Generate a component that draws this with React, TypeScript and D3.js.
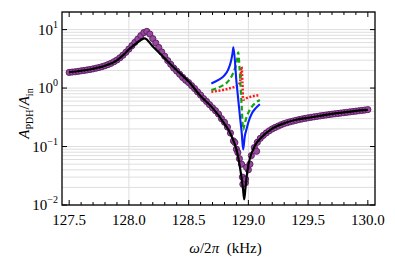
import React from 'react';
import * as d3 from 'd3';

// measured sweep (purple circles), uniform frequency step
const sweepStart = 127.5;
const sweepStep = 0.025;
const sweepAmp = [
  1.85, 1.88, 1.9, 1.93, 1.97, 2.0, 2.04, 2.08, 2.13, 2.19,
  2.25, 2.32, 2.41, 2.52, 2.65, 2.82, 3.02, 3.3, 3.65, 4.1,
  4.65, 5.3, 6.05, 6.9, 7.9, 8.9, 9.3, 8.4, 7.0, 5.9,
  4.95, 4.15, 3.5, 2.95, 2.55, 2.2, 1.95, 1.72, 1.52, 1.36,
  1.24, 1.1, 0.98, 0.86, 0.76, 0.66, 0.59, 0.52, 0.46, 0.41,
  0.36, 0.3, 0.26, 0.215, 0.17, 0.125, 0.09, 0.062, 0.03, 0.024,
  0.04, 0.07, 0.096, 0.118, 0.138, 0.155, 0.171, 0.186, 0.2, 0.212,
  0.224, 0.236, 0.247, 0.256, 0.265, 0.273, 0.281, 0.289, 0.296, 0.303,
  0.31, 0.316, 0.322, 0.328, 0.334, 0.34, 0.346, 0.352, 0.358, 0.363,
  0.368, 0.374, 0.379, 0.385, 0.391, 0.397, 0.403, 0.409, 0.415, 0.421,
  0.428
];
// extra measured points around the dip
const dipFreq = [128.887, 128.912, 128.943, 128.954, 128.977, 128.985, 129.013, 129.069];
const dipAmp = [0.117, 0.079, 0.05, 0.0227, 0.0276, 0.044, 0.05, 0.083];

// fit (black line)
const fitFreq = [127.5, 127.6, 127.7, 127.8, 127.9, 127.95, 128.0, 128.05, 128.1, 128.13, 128.2, 128.3, 128.4, 128.5, 128.6, 128.7, 128.8, 128.85, 128.9, 128.92, 128.94, 128.955, 128.965, 128.975, 128.985, 129.0, 129.02, 129.04, 129.06, 129.1, 129.2, 129.3, 129.4, 129.5, 129.6, 129.7, 129.8, 129.9, 130.0];
const fitAmp = [1.87, 1.98, 2.14, 2.41, 2.98, 3.62, 4.58, 5.57, 6.64, 7.1, 5.15, 3.22, 2.02, 1.29, 0.73, 0.458, 0.245, 0.166, 0.089, 0.058, 0.032, 0.019, 0.0125, 0.019, 0.03, 0.048, 0.07, 0.089, 0.108, 0.137, 0.202, 0.25, 0.287, 0.31, 0.335, 0.362, 0.384, 0.408, 0.424];

// model curves near the dip
const blueFreq = [128.69, 128.75, 128.8, 128.83, 128.855, 128.868, 128.875, 128.9, 128.93, 128.945, 128.956, 128.97, 128.985, 129.0, 129.03, 129.06, 129.096];
const blueAmp = [1.2, 1.38, 1.65, 2.05, 2.9, 4.0, 5.0, 1.3, 0.32, 0.166, 0.089, 0.15, 0.2, 0.26, 0.37, 0.45, 0.53];
const greenFreq = [128.69, 128.75, 128.79, 128.83, 128.86, 128.885, 128.905, 128.915, 128.925, 128.935, 128.945, 128.956, 128.97, 128.985, 129.0, 129.03, 129.06, 129.096];
const greenAmp = [0.925, 1.02, 1.12, 1.3, 1.6, 2.1, 3.0, 4.1, 2.4, 1.05, 0.45, 0.194, 0.25, 0.32, 0.38, 0.48, 0.56, 0.626];
const redFreq = [128.69, 128.75, 128.8, 128.845, 128.88, 128.915, 128.932, 128.943, 128.95, 128.956, 128.97, 128.985, 129.02, 129.06, 129.096];
const redAmp = [0.866, 0.9, 0.94, 0.99, 1.04, 1.12, 1.35, 2.3, 1.3, 0.63, 0.64, 0.67, 0.71, 0.74, 0.76];

const xTicks = [127.5, 128.0, 128.5, 129.0, 129.5, 130.0];
const xGrid = [128.0, 128.5, 129.0, 129.5];
const yExponents = [-2, -1, 0, 1];

const W = 395;
const H = 260;
const margin = { top: 12, right: 20, bottom: 55, left: 62 };
const serif = '"Times New Roman", "Liberation Serif", serif';

export default function App() {
  const x = d3.scaleLinear().domain([127.44, 130.06]).range([margin.left, W - margin.right]);
  const y = d3.scaleLog().domain([0.01, 20]).range([H - margin.bottom, margin.top]);
  const [x0, x1] = x.range();
  const [y0, y1] = y.range();

  const line = d3.line<[number, number]>()
    .x(d => x(d[0]))
    .y(d => y(d[1]))
    .curve(d3.curveMonotoneX);
  const zip = (f: number[], a: number[]) => f.map((v, i) => [v, a[i]] as [number, number]);

  const points = sweepAmp.map((a, i) => [sweepStart + i * sweepStep, a] as [number, number])
    .concat(zip(dipFreq, dipAmp));

  const yMinor: number[] = [];
  for (let e = -2; e <= 1; e++) {
    for (let k = 1; k <= 9; k++) {
      const v = k * Math.pow(10, e);
      if (v <= 20) yMinor.push(v);
    }
  }
  const xMinor = d3.range(1275, 1301).map(v => v / 10);

  return (
    <svg width={W} height={H} style={{ position: 'absolute', left: 0, top: 0, background: '#fff' }}>
      {/* grid */}
      <g stroke="#dedede" strokeWidth={1}>
        {yMinor.map(v => (
          <line key={'gy' + v} x1={x0} x2={x1} y1={y(v)} y2={y(v)} />
        ))}
        {xGrid.map(v => (
          <line key={'gx' + v} x1={x(v)} x2={x(v)} y1={y0} y2={y1} />
        ))}
      </g>

      {/* data points */}
      <g fill="#974a9d" stroke="#5a1b62" strokeWidth={0.9}>
        {points.map((p, i) => (
          <circle key={i} cx={x(p[0])} cy={y(p[1])} r={3.1} />
        ))}
      </g>

      {/* fit */}
      <path d={line(zip(fitFreq, fitAmp)) || ''} fill="none" stroke="#000" strokeWidth={2.2} />

      {/* model curves */}
      <path d={line(zip(redFreq, redAmp)) || ''} fill="none" stroke="#ff1a1a" strokeWidth={2.5} strokeDasharray="2,1.6" />
      <path d={line(zip(greenFreq, greenAmp)) || ''} fill="none" stroke="#13a313" strokeWidth={2.2} strokeDasharray="5,3" />
      <path d={line(zip(blueFreq, blueAmp)) || ''} fill="none" stroke="#0a1eff" strokeWidth={2.1} />

      {/* ticks */}
      <g stroke="#000" strokeWidth={1}>
        {xMinor.map(v => {
          const major = xTicks.some(t => Math.abs(t - v) < 1e-6);
          const len = major ? 5 : 3;
          return (
            <g key={'tx' + v}>
              <line x1={x(v)} x2={x(v)} y1={y0} y2={y0 - len} />
              <line x1={x(v)} x2={x(v)} y1={y1} y2={y1 + len} />
            </g>
          );
        })}
        {yExponents.map(e => (
          <g key={'ty' + e}>
            <line x1={x0} x2={x0 + 5} y1={y(Math.pow(10, e))} y2={y(Math.pow(10, e))} />
            <line x1={x1} x2={x1 - 5} y1={y(Math.pow(10, e))} y2={y(Math.pow(10, e))} />
          </g>
        ))}
      </g>

      {/* frame */}
      <rect x={x0} y={y1} width={x1 - x0} height={y0 - y1} fill="none" stroke="#000" strokeWidth={1.3} />

      {/* tick labels */}
      <g fontFamily={serif} fontSize={15} fill="#000">
        {xTicks.map(v => (
          <text key={'lx' + v} x={x(v)} y={y0 + 20} textAnchor="middle">{v.toFixed(1)}</text>
        ))}
        {yExponents.map(e => (
          <text key={'ly' + e} x={x0 - 4} y={y(Math.pow(10, e)) + 5} textAnchor="end">
            10<tspan fontSize={10} dy={-7}>{e < 0 ? '\u2212' + Math.abs(e) : String(e)}</tspan>
          </text>
        ))}
      </g>

      {/* axis titles */}
      <text x={(x0 + x1) / 2 + 7} y={253} textAnchor="middle" fontFamily={serif} fontSize={15}>
        <tspan fontStyle="italic">ω</tspan>/2<tspan fontStyle="italic">π</tspan>{'\u00a0\u00a0'}(kHz)
      </text>
      <text transform={`translate(29,${(y0 + y1) / 2 + 5}) rotate(-90)`} textAnchor="middle" fontFamily={serif} fontSize={15}>
        <tspan fontStyle="italic">A</tspan>
        <tspan fontSize={10} dy={4}>PDH</tspan>
        <tspan dy={-4}>/</tspan>
        <tspan fontStyle="italic">A</tspan>
        <tspan fontSize={10} dy={4}>in</tspan>
      </text>
    </svg>
  );
}
